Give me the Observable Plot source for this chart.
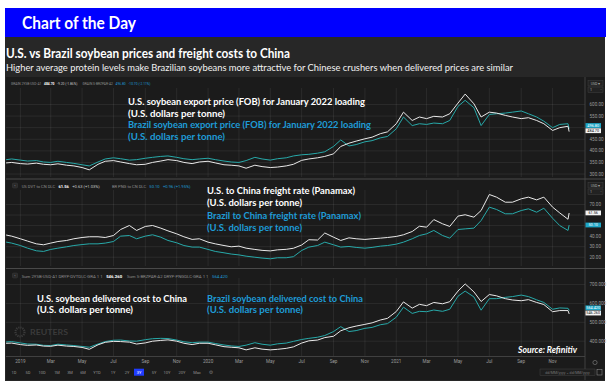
<!DOCTYPE html>
<html><head><meta charset="utf-8">
<script src="https://cdn.jsdelivr.net/npm/d3@7"></script>
<script src="https://cdn.jsdelivr.net/npm/@observablehq/plot@0.6"></script>
<style>
html,body{margin:0;padding:0;background:#fff;}
#root{position:relative;width:611px;height:384px;overflow:hidden;}
.bg{position:absolute;}
</style></head>
<body><div id="root"></div>
<script>
// ---------------- DATA ----------------
const dates = ["2018-12-05","2018-12-15","2019-01-01","2019-01-15","2019-02-01","2019-02-15","2019-03-01","2019-03-15","2019-04-01","2019-04-15","2019-05-01","2019-05-15","2019-06-01","2019-06-15","2019-07-01","2019-07-15","2019-08-01","2019-08-15","2019-09-01","2019-09-15","2019-10-01","2019-10-15","2019-11-01","2019-11-15","2019-12-01","2019-12-15","2020-01-01","2020-01-15","2020-02-01","2020-02-15","2020-03-01","2020-03-15","2020-04-01","2020-04-15","2020-05-01","2020-05-15","2020-06-01","2020-06-15","2020-07-01","2020-07-15","2020-08-01","2020-08-15","2020-09-01","2020-09-15","2020-10-01","2020-10-15","2020-11-01","2020-11-15","2020-12-01","2020-12-15","2021-01-01","2021-01-15","2021-02-01","2021-02-15","2021-03-01","2021-03-15","2021-04-01","2021-04-15","2021-05-01","2021-05-15","2021-06-01","2021-06-15","2021-07-01","2021-07-15","2021-08-01","2021-08-15","2021-09-01","2021-09-15","2021-10-01","2021-10-15","2021-11-01","2021-11-15","2021-12-01","2021-12-03"];

// U.S. / Brazil soybean export price (FOB), USD/t
const usFob = [348,350,345,343,347,342,340,344,338,335,328,318,342,355,358,352,345,340,342,350,356,362,358,350,345,352,355,348,340,338,335,325,338,332,328,330,335,342,359,365,370,376,387,419,433,442,452,459,474,482,517,567,531,546,539,549,546,560,606,645,603,546,567,563,553,546,539,543,531,517,488,500,506,484.70];
const brFob = [362,365,360,356,358,352,350,355,350,346,340,335,352,365,370,366,360,362,368,372,376,378,372,366,362,365,368,362,356,352,350,358,372,365,360,366,370,378,383,385,390,396,419,447,421,427,439,444,456,462,495,546,509,517,514,520,517,531,592,618,586,509,557,560,563,567,572,560,546,528,500,514,517,496.80];

// Freight rate to China (Panamax), USD/t
const usFrt = [41,40,37.5,35.3,32.7,31.8,33.4,34.9,35.9,37.5,38.7,39.4,39.4,38.7,40.6,46.3,50.1,45.4,49.2,50.1,47.6,45,42.2,39.4,36.9,37.5,34.3,32.7,31.1,29.9,30.5,28.6,27.4,26.5,26,27,27.5,28.5,31.6,36.6,36.3,43,39,35.9,38.4,37.5,36.9,37.5,38.1,38.7,39.7,41.3,44.4,49.4,48.5,55.7,51.7,49.2,59,60.3,58,64.3,79.5,77,72.2,72.2,75.4,77,74.4,77,67.5,62,56,61.56];
const brFrt = [34.3,33.4,31.1,28.6,26.1,25.5,27.4,28.6,29.9,31.1,32,32.7,32.7,33.4,34.9,40,40.6,37.5,40,41.3,39,35.9,33.7,31.1,29.6,29.6,27.4,25.5,24.2,23,22.2,21,20,19.2,18.5,19.5,19.5,20.5,26.4,29.6,31.1,34.3,31.8,29.6,30.2,29.3,28.6,29.3,30.5,31.1,32.4,34.3,37.5,40.6,42.2,45.4,40.6,38.1,46.3,46.9,47.6,54.8,67.5,65.3,61.2,61.2,64.3,65.9,62.7,66.5,57,50,45.4,50.10];

// Delivered cost to China, USD/t
const usDel = [389,390,382,378,380,374,373,379,374,372,367,357,381,394,399,398,395,385,391,400,404,407,400,389,382,389,389,381,371,368,365,354,365,358,354,357,362,370,390,402,406,419,426,455,471,480,489,497,512,521,557,608,575,595,588,605,598,609,665,703,661,610,647,640,625,618,614,620,605,594,556,562,562,546.260];
const brDel = [396,398,391,385,384,378,377,384,380,377,372,368,385,398,405,406,401,400,408,413,415,414,406,397,392,395,395,388,380,375,372,379,392,384,379,386,390,399,409,415,421,430,451,477,451,456,468,473,487,493,527,580,547,558,556,565,558,569,638,665,634,564,625,625,632,636,644,636,619,605,569,576,574,564.420];

// Axis ticks (labels hidden by the last-value badges are left out of the label lists)
const tickDates = ["2019-01-01","2019-03-01","2019-05-01","2019-07-01","2019-09-01","2019-11-01","2020-01-01","2020-03-01","2020-05-01","2020-07-01","2020-09-01","2020-11-01","2021-01-01","2021-03-01","2021-05-01","2021-07-01","2021-09-01","2021-11-01"];
const tickLabels = ["2019","Mar","May","Jul","Sep","Nov","2020","Mar","May","Jul","Sep","Nov","2021","Mar","May","Jul","Sep","Nov"];
const fobGrid = [300,350,400,450,500,550,600];
const fobTicks = [300,350,400,450,550,600];
const frtGrid = [20,30,40,50,60,70];
const frtTicks = [20,30,40,70];
const delGrid = [400,500,600,700];
const delTicks = [400,500,600,700];
const fobNames = ["GRAIN 2YSB-USD-A1","GRAIN S-BRZPAR-A2"];
const fobChanges = ["-9.20 (-1.86%)","-10.70 (-2.11%)"];
const frtNames = ["US DVT to CN DLC","BR PNG to CN DLC"];
const frtChanges = ["+0.63 (+1.03%)","+0.96 (+1.95%)"];
const delNames = ["Sum 2YSB-USD-A1 DRYP-DVTDLC-GRA 1 1","Sum S-BRZPAR-A2 DRYP-PNGDLC-GRA 1 1"];
const rangeButtons = ["1D","5D","10D","1M","3M","6M","YTD","1Y","2Y","3Y","5Y","10Y","20Y","Max"];

// ---------------- STYLE ----------------
const WHITE = "#e9e9e9", TEAL = "#27a9a9", TEXT_TEAL = "#1e9bd7", GRAY = "#9b9b9b";
const root = document.getElementById("root");
function bg(l,t,w,h,c){const d=document.createElement("div");d.className="bg";d.style.cssText=`left:${l}px;top:${t}px;width:${w}px;height:${h}px;background:${c}`;root.appendChild(d);}
bg(5,8,601,29,"#0000ff");
bg(5,37,600,344,"#272727");
bg(6,77,599,303,"#1b1b1b");

const tDates = tickDates.map(d => new Date(d));
const xDomain = [new Date("2018-12-05"), new Date("2022-01-04")];

function panel({top, height, mt, mb, a, b, yDomain, yTicks, yGrid, dec, showX}) {
  const rows = dates.map((d,i) => ({date: new Date(d), a: a[i], b: b[i]}));
  const p = Plot.plot({
    width: 611, height, marginLeft: 6, marginRight: 26, marginTop: mt, marginBottom: mb,
    style: {background: "transparent", color: GRAY, fontFamily: "Roboto, sans-serif", fontSize: "4.6px", overflow: "visible"},
    x: {type: "utc", domain: xDomain, axis: showX ? "bottom" : null, ticks: tDates,
        tickFormat: d => tickLabels[tDates.findIndex(t => +t === +d)], tickSize: 0, tickPadding: 3, label: null},
    y: {domain: yDomain, axis: "right", ticks: yTicks, tickFormat: v => v.toFixed(dec), tickSize: 0, tickPadding: 4, label: null},
    marks: [
      Plot.ruleX(tDates, {stroke: "#ffffff", strokeOpacity: 0.07}),
      Plot.ruleY(yGrid, {stroke: "#ffffff", strokeOpacity: 0.07}),
      Plot.lineY(rows, {x: "date", y: "b", stroke: TEAL, strokeWidth: 1}),
      Plot.lineY(rows, {x: "date", y: "a", stroke: WHITE, strokeWidth: 1})
    ]
  });
  p.style.position = "absolute"; p.style.left = "0px"; p.style.top = top + "px";
  root.appendChild(p);
  return p;
}
const p1 = panel({top: 78, height: 100, mt: 10, mb: 1, a: usFob, b: brFob, yDomain: [285, 669], yTicks: fobTicks, yGrid: fobGrid, dec: 2});
const p2 = panel({top: 180, height: 88, mt: 10, mb: 2, a: usFrt, b: brFrt, yDomain: [11.2, 83.3], yTicks: frtTicks, yGrid: frtGrid, dec: 2});
const p3 = panel({top: 269, height: 97, mt: 9, mb: 10, a: usDel, b: brDel, yDomain: [319, 731.7], yTicks: delTicks, yGrid: delGrid, dec: 3, showX: true});

// ---------------- OVERLAY ----------------
const NS = "http://www.w3.org/2000/svg";
const ov = document.createElementNS(NS, "svg");
ov.setAttribute("width", 611); ov.setAttribute("height", 384);
ov.style.cssText = "position:absolute;left:0;top:0;pointer-events:none";
root.appendChild(ov);
function el(tag, attrs){const e=document.createElementNS(NS,tag);for(const k in attrs)e.setAttribute(k,attrs[k]);ov.appendChild(e);return e;}
function text(s,x,y,o={}){
  const t=el("text",{x,y,fill:o.fill||"#fff","font-family":o.font||"Lato, sans-serif","font-size":o.size||9.5,"font-weight":o.weight||"normal","font-style":o.style||"normal","text-anchor":o.anchor||"start"});
  if(o.w){t.setAttribute("textLength",o.w);t.setAttribute("lengthAdjust","spacingAndGlyphs");}
  t.textContent=s;return t;
}
// structure lines
el("line",{x1:6,x2:605,y1:179,y2:179,stroke:"#555","stroke-width":0.8});
el("line",{x1:6,x2:605,y1:268.5,y2:268.5,stroke:"#555","stroke-width":0.8});
el("line",{x1:6,x2:585,y1:356.5,y2:356.5,stroke:"#4a4a4a","stroke-width":0.8});
el("line",{x1:585,x2:585,y1:77,y2:380,stroke:"#4a4a4a","stroke-width":0.8});

// header texts
text("Chart of the Day",22,28.5,{size:16.5,weight:"bold",w:114});
text("U.S. vs Brazil soybean prices and freight costs to China",6,57.5,{size:12.5,weight:"bold",w:284});
text("Higher average protein levels make Brazilian soybeans more attractive for Chinese crushers when delivered prices are similar",6,71.3,{size:8.7,fill:"#f2f2f2",w:507});

// panel annotations
const B = {weight:"bold",size:10};
text("U.S. soybean export price (FOB) for January 2022 loading",128,105,{...B,w:237});
text("(U.S. dollars per tonne)",128,116.5,{...B,w:97});
text("Brazil soybean export price (FOB) for January 2022 loading",128,128,{...B,w:243,fill:TEXT_TEAL});
text("(U.S. dollars per tonne)",128,139.5,{...B,w:97,fill:TEXT_TEAL});
text("U.S. to China freight rate (Panamax)",207,194,{...B,w:148});
text("(U.S. dollars per tonne)",207,205.5,{...B,w:95});
text("Brazil to China freight rate (Panamax)",207,219,{...B,w:154,fill:TEXT_TEAL});
text("(U.S. dollars per tonne)",207,231,{...B,w:95,fill:TEXT_TEAL});
text("U.S. soybean delivered cost to China",37,301.5,{...B,w:150});
text("(U.S. dollars per tonne)",37,313.3,{...B,w:96});
text("Brazil soybean delivered cost to China",207,301.5,{...B,w:156,fill:TEXT_TEAL});
text("(U.S. dollars per tonne)",207,313.3,{...B,w:96,fill:TEXT_TEAL});
text("Source: Refinitiv",518,352.5,{...B,style:"italic",w:59});

// Reuters watermark
el("circle",{cx:20,cy:332,r:4.5,fill:"none",stroke:"#3a3a3a","stroke-width":2.2,"stroke-dasharray":"1.2 0.9"});
text("REUTERS",30,335.3,{size:8,weight:"bold",fill:"#3a3a3a",w:38});

// tiny quote headers, laid out left to right
const S = {font:"Roboto, sans-serif",size:4.2,fill:"#8f8f8f"};
const last = a => a[a.length-1];
function quoteRow(y, size, x0, items){
  let x = x0;
  for (const it of items) {
    if (it.gap) { x += it.gap*size; continue; }
    const t = text(it.s, x, y, {...S, size, fill: it.fill || "#8f8f8f", weight: it.weight || "normal"});
    x += t.getComputedTextLength() + 0.8*size;
  }
}
quoteRow(85.3, 3.3, 11, [
  {s: fobNames[0]}, {s: last(usFob).toFixed(2), fill: "#fff", weight: "bold"}, {s: fobChanges[0], fill: "#c8c8c8"}, {gap: 0.8},
  {s: fobNames[1]}, {s: last(brFob).toFixed(2), fill: TEXT_TEAL}, {s: fobChanges[1], fill: TEXT_TEAL}]);

function backBox(y){el("rect",{x:12.5,y:y-3,width:5,height:5,rx:1,fill:"#2a2a2a",stroke:"#444","stroke-width":0.4});text("‹",15,y+1.3,{...S,anchor:"middle",fill:"#bbb"});}
backBox(186); backBox(276);
quoteRow(187.5, 4.1, 21.7, [
  {s: frtNames[0]}, {s: last(usFrt).toFixed(2), fill: "#fff", weight: "bold"}, {s: frtChanges[0], fill: "#c8c8c8"}, {gap: 2.2},
  {s: frtNames[1]}, {s: last(brFrt).toFixed(2), fill: TEXT_TEAL}, {s: frtChanges[1], fill: TEXT_TEAL}]);
quoteRow(277.5, 4.3, 21.7, [
  {s: delNames[0]}, {s: last(usDel).toFixed(3), fill: "#fff", weight: "bold"}, {gap: 0.3},
  {s: delNames[1]}, {s: last(brDel).toFixed(3), fill: TEXT_TEAL}]);

// currency / multiplier boxes
function dropBoxes(y){
  el("rect",{x:588,y:y,width:15,height:5.5,fill:"#222",stroke:"#4a4a4a","stroke-width":0.4});
  text("USD ▾",595.5,y+4,{...S,size:3.6,anchor:"middle",fill:"#aaa"});
  el("rect",{x:588,y:y+6.5,width:15,height:5.5,fill:"#222",stroke:"#4a4a4a","stroke-width":0.4});
  text("1",590,y+10.5,{...S,size:3.6,fill:"#aaa"});
  text("-",601,y+10.5,{...S,size:3.6,anchor:"middle",fill:"#aaa"});
}
dropBoxes(80.5); dropBoxes(182.5);

// last-value badges positioned through Plot's y scales
function badges(p, top, items, dec){
  const sy = p.scale("y");
  const ys = items.map(d => ({...d, y: top + sy.apply(d.v)})).sort((a,b)=>a.y-b.y);
  const h = 4.8;
  if (ys[1].y - ys[0].y < h) ys[0].y = ys[1].y - h - 0.4;
  for (const d of ys) {
    el("rect",{x:585.5,y:d.y-h/2,width:15.5,height:h,fill:d.teal?"#1ea6c6":"#f3f3f3"});
    text(d.v.toFixed(dec),593.2,d.y+1.4,{...S,size:3.8,anchor:"middle",fill:d.teal?"#ffffff":"#111"});
  }
}
badges(p1,78,[{v:last(usFob)},{v:last(brFob),teal:true}],2);
badges(p2,180,[{v:last(usFrt)},{v:last(brFrt),teal:true}],2);
badges(p3,269,[{v:last(usDel)},{v:last(brDel),teal:true}],3);

// bottom controls
el("circle",{cx:595,cy:362.5,r:2.1,fill:"none",stroke:"#999","stroke-width":0.5});
const btnX = [14,28,42,57,70,83,97,113,127,139,154,167,182,197];
rangeButtons.forEach((s,i)=>{
  if (s==="3Y") el("rect",{x:btnX[i]-5,y:368.7,width:10,height:7,fill:"#1f3cff"});
  text(s,btnX[i],373.7,{...S,size:4,anchor:"middle",fill:s==="3Y"?"#fff":"#8f8f8f"});
});
text("⚙",211,374,{font:"DejaVu Sans",size:5,anchor:"middle",fill:"#777"});
el("rect",{x:540,y:369,width:55,height:6.5,fill:"#1e1e1e",stroke:"#4a4a4a","stroke-width":0.4});
text("dd/MM/yyyy ~ dd/MM/yyyy",567.5,373.5,{...S,size:3.6,anchor:"middle",fill:"#777"});
el("rect",{x:597,y:369.5,width:5,height:5.5,fill:"none",stroke:"#999","stroke-width":0.5});
</script></body></html>
